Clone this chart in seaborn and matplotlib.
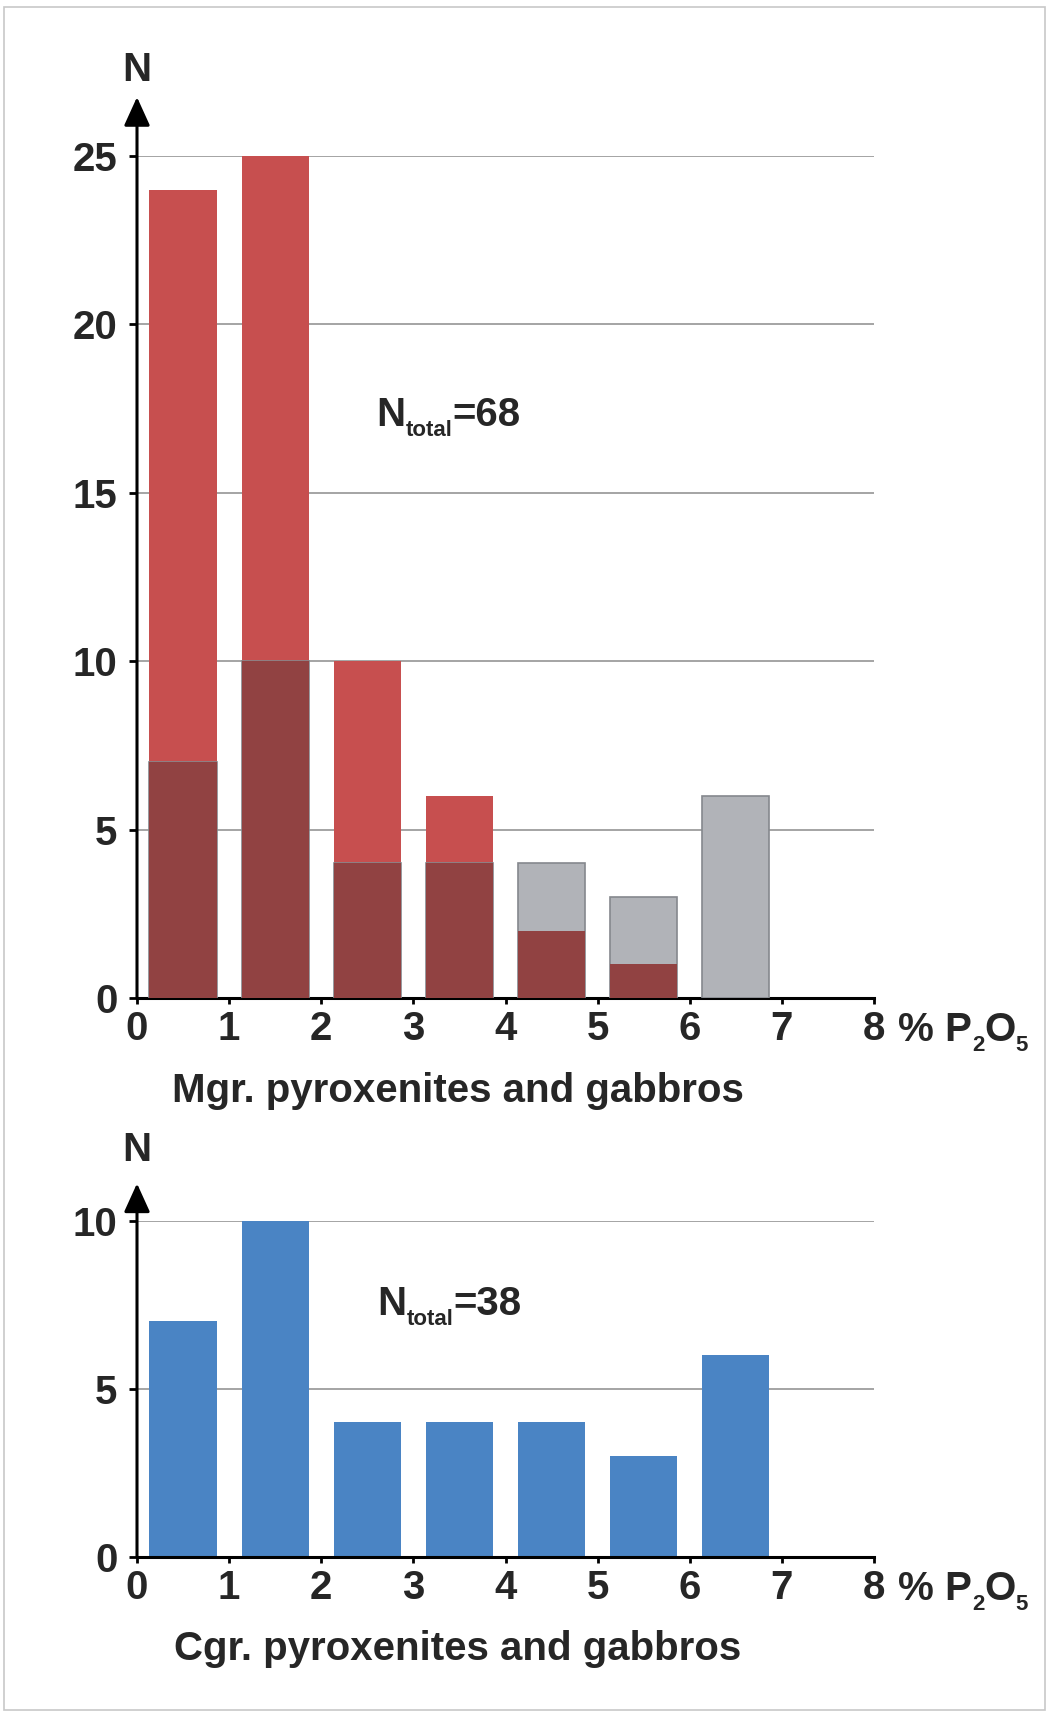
import numpy as np
import matplotlib
matplotlib.use("Agg")
import matplotlib.pyplot as plt
import seaborn as sns
from matplotlib.patches import Rectangle
from matplotlib.transforms import offset_copy

# P2O5 bins (centres) and counts per bin
bin_centres = [0.5, 1.5, 2.5, 3.5, 4.5, 5.5, 6.5]
mgr_counts = [24, 25, 10, 6, 2, 1, 0]   # medium-grained
cgr_counts = [7, 10, 4, 4, 4, 3, 6]     # coarse-grained
overlap = np.minimum(mgr_counts, cgr_counts)

top_yticks = [0, 5, 10, 15, 20, 25]
bot_yticks = [0, 5, 10]
xticks = [0, 1, 2, 3, 4, 5, 6, 7, 8]

RED = "#c74f4f"
DARK_RED = "#914242"
GRAY = "#b1b3b8"
BLUE = "#4a84c4"

sns.set_style("white")
plt.rcParams["font.family"] = ["Liberation Sans", "DejaVu Sans"]
plt.rcParams["font.weight"] = "bold"

FS = 29
SUB = 16
fig = plt.figure(figsize=(10.49, 17.13), dpi=100)
fig.patches.append(Rectangle((0.004, 0.002), 0.992, 0.994, transform=fig.transFigure,
                             fill=False, edgecolor="#c8c8c8", lw=1.2))

ax1 = fig.add_axes([0.1306, 0.4174, 0.7026, 0.4915])
ax2 = fig.add_axes([0.1306, 0.0911, 0.7026, 0.1964])
renderer = fig.canvas.get_renderer()


def pieces(ax, x, y, parts, transform=None, dy0=0):
    # draw text made of (string, size, baseline shift in points) pieces side by side
    base = transform if transform is not None else ax.transData
    dx = 0.0
    for s, size, dy in parts:
        tr = offset_copy(base, fig=fig, x=dx, y=dy + dy0, units="points")
        t = ax.text(x, y, s, fontsize=size, fontweight="bold", ha="left", va="baseline",
                    transform=tr, clip_on=False)
        w = t.get_window_extent(renderer).width
        dx += w * 72.0 / fig.dpi


def style_axes(ax, yticks, top, arrow_top, n_y):
    ax.set_xlim(0, 8)
    ax.set_ylim(0, top)
    ax.set_xticks(xticks)
    ax.set_yticks(yticks)
    ax.set_xticklabels([str(t) for t in xticks], fontsize=FS, fontweight="bold")
    ax.set_yticklabels([str(t) for t in yticks], fontsize=FS, fontweight="bold")
    for y in yticks[1:]:
        ax.axhline(y, color="#8c8c8c", lw=1.1, zorder=0)
    for s in ["top", "right", "left"]:
        ax.spines[s].set_visible(False)
    ax.spines["bottom"].set_linewidth(2.2)
    ax.spines["bottom"].set_color("black")
    ax.tick_params(axis="x", direction="out", length=4, width=2, color="black",
                   bottom=True, pad=5)
    ax.tick_params(axis="y", direction="out", length=6, width=2, color="black",
                   left=True, pad=8)
    ax.annotate("", xy=(0, arrow_top), xytext=(0, 0), xycoords="data",
                arrowprops=dict(arrowstyle="-|>,head_length=0.55,head_width=0.25", lw=2.2,
                                color="black", mutation_scale=32, shrinkA=0, shrinkB=0),
                annotation_clip=False)
    ax.text(0, n_y, "N", ha="center", va="center", fontsize=FS, fontweight="bold",
            clip_on=False)
    pieces(ax, 8.26, 0, [("% P", FS, 0), ("2", SUB, -7), ("O", FS, 0), ("5", SUB, -7)],
           transform=ax.get_xaxis_transform(), dy0=-31)
    ax.set_xlabel("")
    ax.set_ylabel("")


# top panel: Mgr (red) with Cgr (gray) overlaid, overlap in dark red
sns.barplot(x=bin_centres, y=mgr_counts, native_scale=True, width=0.73,
            color=RED, saturation=1, linewidth=0, ax=ax1, zorder=2)
sns.barplot(x=bin_centres, y=cgr_counts, native_scale=True, width=0.73,
            color=GRAY, saturation=1, edgecolor="#85888d", linewidth=1.2, ax=ax1, zorder=3)
sns.barplot(x=bin_centres, y=overlap, native_scale=True, width=0.73,
            color=DARK_RED, saturation=1, linewidth=0, ax=ax1, zorder=4)
style_axes(ax1, top_yticks, 25, 26.75, 27.55)
pieces(ax1, 2.6, 17.4, [("N", FS, 0), ("total", SUB, -7), ("=68", FS, 0)], dy0=-10)
ax1.text(0.38, -2.75, "Mgr. pyroxenites and gabbros", ha="left", va="center",
         fontsize=FS, fontweight="bold", clip_on=False)

# bottom panel: Cgr (blue)
sns.barplot(x=bin_centres, y=cgr_counts, native_scale=True, width=0.73,
            color=BLUE, saturation=1, linewidth=0, ax=ax2, zorder=2)
style_axes(ax2, bot_yticks, 10, 11.1, 12.1)
pieces(ax2, 2.61, 7.6, [("N", FS, 0), ("total", SUB, -7), ("=38", FS, 0)], dy0=-10)
ax2.text(0.4, -2.75, "Cgr. pyroxenites and gabbros", ha="left", va="center",
         fontsize=FS, fontweight="bold", clip_on=False)

fig.savefig("out.png", dpi=100)
